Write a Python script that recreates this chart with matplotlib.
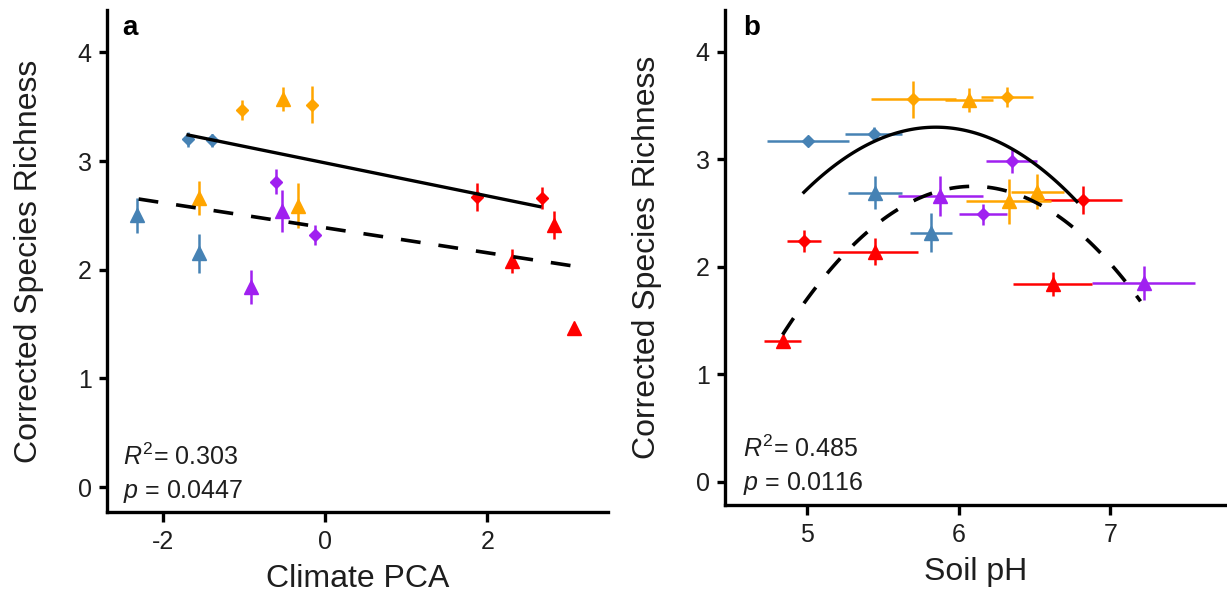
import numpy as np
import matplotlib
matplotlib.use("Agg")
import matplotlib.pyplot as plt

plt.rcParams["font.family"] = ["Liberation Sans", "DejaVu Sans"]
plt.rcParams["mathtext.fontset"] = "custom"
plt.rcParams["mathtext.rm"] = "Liberation Sans"
plt.rcParams["mathtext.it"] = "Liberation Sans:italic"
plt.rcParams["axes.unicode_minus"] = False

TEXT = "#1e1e1e"
COLORS = {"blue": "#4682B4", "orange": "#FFA500", "purple": "#A020F0", "red": "#FF0000"}

# panel a: climate PCA vs corrected richness (diamonds = one group, triangles = other)
a_dia_x = [-1.69, -1.39, -1.03, -0.16, -0.61, -0.12, 1.88, 2.67]
a_dia_y = [3.20, 3.19, 3.47, 3.52, 2.81, 2.32, 2.67, 2.66]
a_dia_yerr = [0.07, 0.06, 0.09, 0.17, 0.115, 0.095, 0.13, 0.10]
a_dia_col = ["blue", "blue", "orange", "orange", "purple", "purple", "red", "red"]

a_tri_x = [-0.52, -1.55, -0.34, -2.32, -1.56, -0.53, -0.91, 2.83, 2.30, 3.07]
a_tri_y = [3.57, 2.66, 2.59, 2.50, 2.15, 2.54, 1.84, 2.41, 2.08, 1.46]
a_tri_yerr = [0.11, 0.16, 0.21, 0.16, 0.18, 0.19, 0.16, 0.13, 0.115, 0.02]
a_tri_col = ["orange", "orange", "orange", "blue", "blue", "purple", "purple", "red", "red", "red"]

# linear fits (intercept, slope) and x ranges
a_fit_solid = (2.983, -0.152)
a_fit_solid_range = (-1.69, 2.65)
a_fit_dash = (2.386, -0.115)
a_fit_dash_range = (-2.30, 3.07)

# panel b: soil pH vs corrected richness
b_dia_x = [5.01, 5.44, 5.70, 6.32, 6.35, 6.16, 4.98, 6.82]
b_dia_y = [3.17, 3.24, 3.56, 3.58, 2.99, 2.49, 2.24, 2.62]
b_dia_xerr = [0.27, 0.19, 0.28, 0.17, 0.17, 0.16, 0.11, 0.26]
b_dia_yerr = [0.04, 0.06, 0.17, 0.09, 0.12, 0.10, 0.105, 0.13]
b_dia_col = ["blue", "blue", "orange", "orange", "purple", "purple", "red", "red"]

b_tri_x = [6.07, 6.52, 6.33, 5.45, 5.82, 5.88, 7.22, 5.45, 4.84, 6.62]
b_tri_y = [3.55, 2.70, 2.61, 2.69, 2.32, 2.66, 1.85, 2.14, 1.31, 1.84]
b_tri_xerr = [0.16, 0.175, 0.28, 0.18, 0.14, 0.28, 0.34, 0.28, 0.12, 0.26]
b_tri_yerr = [0.11, 0.165, 0.21, 0.155, 0.18, 0.19, 0.155, 0.125, 0.04, 0.11]
b_tri_col = ["orange", "orange", "orange", "blue", "blue", "purple", "purple", "red", "red", "red"]

# quadratic fits in vertex form (h, k, a) and x ranges
b_fit_solid = (5.85, 3.30, -0.80)
b_fit_solid_range = (4.98, 6.78)
b_fit_dash = (6.095, 2.75, -0.876)
b_fit_dash_range = (4.84, 7.20)

stats_a = ("0.303", "0.0447")
stats_b = ("0.485", "0.0116")


def draw_points(ax, x, y, yerr, cols, marker, ms, xerr=None):
    for i in range(len(x)):
        c = COLORS[cols[i]]
        ax.errorbar(x[i], y[i], yerr=yerr[i], xerr=None if xerr is None else xerr[i],
                    fmt=marker, color=c, ms=ms, mec=c, elinewidth=1.8, capsize=0, zorder=3)


def style_axes(ax):
    for s in ["top", "right"]:
        ax.spines[s].set_visible(False)
    for s in ["left", "bottom"]:
        ax.spines[s].set_linewidth(2.4)
    ax.tick_params(axis="both", width=2.4, labelsize=18, colors="black", labelcolor=TEXT)
    ax.tick_params(axis="x", length=7, pad=6)
    ax.tick_params(axis="y", length=6, pad=5)
    ax.set_yticks([0, 1, 2, 3, 4])


fig = plt.figure(figsize=(12.27, 5.92), dpi=100)
ax1 = fig.add_axes([107 / 1227, 1 - 512 / 592, 501 / 1227, 502 / 592])
ax2 = fig.add_axes([725 / 1227, 1 - 505 / 592, 502 / 1227, 495 / 592])

# panel a
draw_points(ax1, a_dia_x, a_dia_y, a_dia_yerr, a_dia_col, "D", 6)
draw_points(ax1, a_tri_x, a_tri_y, a_tri_yerr, a_tri_col, "^", 10)
xs = np.linspace(*a_fit_solid_range, 50)
ax1.plot(xs, a_fit_solid[0] + a_fit_solid[1] * xs, color="black", lw=2.4, zorder=4)
xs = np.linspace(*a_fit_dash_range, 50)
ax1.plot(xs, a_fit_dash[0] + a_fit_dash[1] * xs, color="black", lw=2.6, dashes=(5.5, 5), zorder=4)
ax1.set_xlim(-2.69, 3.49)
ax1.set_ylim(-0.23, 4.39)
ax1.set_xticks([-2, 0, 2])
style_axes(ax1)
ax1.set_xlabel("Climate PCA", fontsize=23, labelpad=7, color=TEXT)
ax1.set_ylabel("Corrected Species Richness", fontsize=23, labelpad=24, color=TEXT)

# panel b
draw_points(ax2, b_dia_x, b_dia_y, b_dia_yerr, b_dia_col, "D", 6, xerr=b_dia_xerr)
draw_points(ax2, b_tri_x, b_tri_y, b_tri_yerr, b_tri_col, "^", 10, xerr=b_tri_xerr)
h, k, a = b_fit_solid
xs = np.linspace(*b_fit_solid_range, 100)
ax2.plot(xs, a * (xs - h) ** 2 + k, color="black", lw=2.4, zorder=4)
h, k, a = b_fit_dash
xs = np.linspace(*b_fit_dash_range, 100)
ax2.plot(xs, a * (xs - h) ** 2 + k, color="black", lw=2.6, dashes=(5.5, 5), zorder=4)
ax2.set_xlim(4.46, 7.77)
ax2.set_ylim(-0.214, 4.39)
ax2.set_xticks([5, 6, 7])
style_axes(ax2)
ax2.set_xlabel("Soil pH", fontsize=23, labelpad=7, color=TEXT)
ax2.set_ylabel("Corrected Species Richness", fontsize=23, labelpad=24, color=TEXT)

# panel letters and stats
fig.text(122 / 1227, 1 - 35 / 592, "a", fontsize=20, fontweight="bold", va="baseline")
fig.text(743 / 1227, 1 - 35 / 592, "b", fontsize=20, fontweight="bold", va="baseline")
for (xp, yp), (r2, p) in [((123, 465), stats_a), ((743, 457), stats_b)]:
    fig.text(xp / 1227, 1 - yp / 592, r"$\it{R}^{2}$" + "= " + r2, fontsize=18,
             va="baseline", color=TEXT)
    fig.text(xp / 1227, 1 - (yp + 33) / 592, r"$\it{p}$" + " = " + p, fontsize=18,
             va="baseline", color=TEXT)

fig.savefig("out.png", dpi=100)
